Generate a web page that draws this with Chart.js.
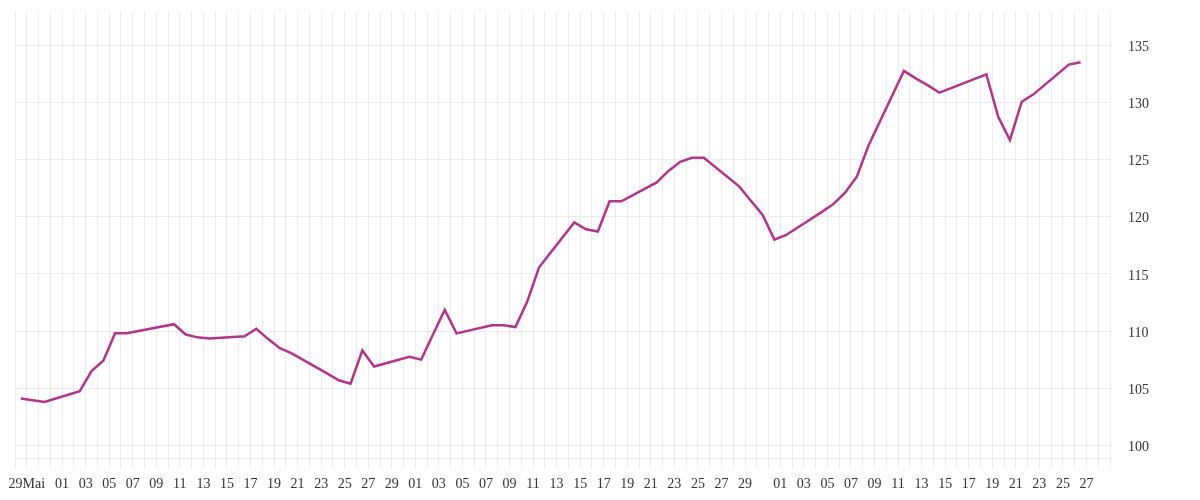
<!DOCTYPE html>
<html>
<head>
<meta charset="utf-8">
<script src="https://cdn.jsdelivr.net/npm/chart.js@4"></script>
<style>
  html, body { margin: 0; padding: 0; background: #ffffff; }
  #wrap { width: 1200px; height: 500px; }
</style>
</head>
<body>
<div id="wrap"><canvas id="c" width="1200" height="500"></canvas></div>
<script>
// ---- data (trading days, 2025) ----
const dates = [
  '2025-05-28','2025-05-30','2025-06-02','2025-06-03','2025-06-04','2025-06-05','2025-06-06',
  '2025-06-10','2025-06-11','2025-06-12','2025-06-13','2025-06-16','2025-06-17','2025-06-18',
  '2025-06-19','2025-06-20','2025-06-23','2025-06-24','2025-06-25','2025-06-26','2025-06-27',
  '2025-06-30','2025-07-01','2025-07-02','2025-07-03','2025-07-04','2025-07-07','2025-07-08',
  '2025-07-09','2025-07-10','2025-07-11','2025-07-14','2025-07-15','2025-07-16','2025-07-17',
  '2025-07-18','2025-07-21','2025-07-22','2025-07-23','2025-07-24','2025-07-25','2025-07-28',
  '2025-07-29','2025-07-30','2025-07-31','2025-08-01','2025-08-04','2025-08-05','2025-08-06',
  '2025-08-07','2025-08-08','2025-08-11','2025-08-12','2025-08-13','2025-08-14','2025-08-15',
  '2025-08-18','2025-08-19','2025-08-20','2025-08-21','2025-08-22','2025-08-25','2025-08-26'
];
const values = [
  104.1, 103.8, 104.75, 106.5, 107.4, 109.8, 109.8,
  110.6, 109.7, 109.45, 109.35, 109.55, 110.2, 109.3,
  108.5, 108.05, 106.3, 105.7, 105.4, 108.3, 106.9,
  107.75, 107.5, 109.7, 111.85, 109.8, 110.5, 110.5,
  110.35, 112.55, 115.55, 119.5, 118.9, 118.7, 121.35,
  121.35, 123.0, 124.0, 124.8, 125.15, 125.15, 122.65,
  121.4, 120.15, 118.0, 118.4, 120.4, 121.1, 122.1,
  123.5, 126.25, 132.75, 132.1, 131.5, 130.85, 131.25,
  132.45, 128.75, 126.7, 130.05, 130.7, 133.3, 133.5
];
const axisStart = '2025-05-28';
const axisEnd = '2025-08-29';
const monthNames = ['Jan','Feb','Mär','Apr','Mai','Jun','Jul','Aug','Sep','Okt','Nov','Dez'];
const yMin = 98.9, yMax = 137.9, yStep = 5;

// ---- helpers ----
const DAY = 86400000;
function toUTC(s) { const p = s.split('-').map(Number); return Date.UTC(p[0], p[1] - 1, p[2]); }
const t0 = toUTC(axisStart);
const nDays = Math.round((toUTC(axisEnd) - t0) / DAY);
// daily closes are plotted at mid-day
const points = dates.map((d, i) => ({ x: (toUTC(d) - t0) / DAY + 0.5, y: values[i] }));

let firstLabelIdx = null;
for (let i = 0; i <= nDays; i++) {
  const dd = new Date(t0 + i * DAY).getUTCDate();
  if (dd % 2 === 1 && dd !== 31) { firstLabelIdx = i; break; }
}
function dayLabel(v) {
  const i = Math.round(v);
  if (i >= nDays) return '';
  const dt = new Date(t0 + i * DAY);
  const dd = dt.getUTCDate();
  if (dd % 2 !== 1 || dd === 31) return '';
  const s = String(dd).padStart(2, '0');
  return i === firstLabelIdx ? s + monthNames[dt.getUTCMonth()] : s;
}

const font = { family: "'Liberation Serif', 'Times New Roman', serif", size: 14 };
const gridColor = '#ececec';
const zeroPad = s => { s.paddingTop = 0; s.paddingBottom = 0; s.paddingLeft = 0; s.paddingRight = 0; };

new Chart(document.getElementById('c'), {
  type: 'line',
  data: {
    datasets: [{
      data: points,
      borderColor: '#b3348b',
      borderWidth: 2.5,
      pointRadius: 0,
      tension: 0,
      fill: false
    }]
  },
  options: {
    responsive: false,
    animation: false,
    devicePixelRatio: 1,
    layout: { padding: { left: 15, top: 12, right: 0, bottom: 0 } },
    plugins: { legend: { display: false }, tooltip: { enabled: false } },
    scales: {
      x: {
        type: 'linear',
        min: 0,
        max: nDays,
        afterBuildTicks: s => {
          const t = [];
          for (let i = 0; i <= nDays; i++) t.push({ value: i });
          s.ticks = t;
        },
        afterFit: s => { s.height = 42; zeroPad(s); },
        grid: { color: gridColor, lineWidth: 1, tickLength: 10, drawTicks: true },
        border: { display: true, color: gridColor },
        ticks: {
          autoSkip: false, maxRotation: 0, minRotation: 0, padding: 8,
          font: font, color: '#333333',
          callback: v => dayLabel(v)
        }
      },
      y: {
        position: 'right',
        min: yMin,
        max: yMax,
        afterFit: s => { s.width = 90; zeroPad(s); },
        grid: { color: gridColor, lineWidth: 1, drawTicks: false },
        border: { display: false },
        ticks: {
          stepSize: yStep, includeBounds: false, padding: 18,
          font: font, color: '#333333', labelOffset: 2
        }
      }
    }
  }
});
</script>
</body>
</html>
